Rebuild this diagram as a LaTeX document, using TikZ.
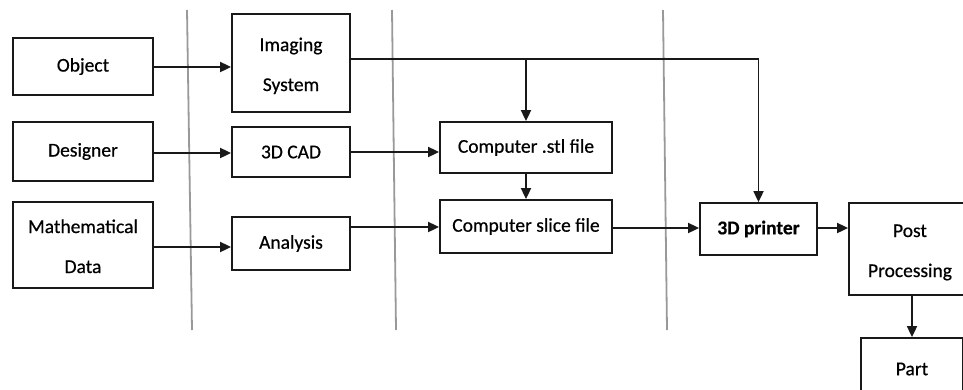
\documentclass[tikz,border=0pt]{standalone}
\usepackage{fontspec}
\setmainfont{Carlito}[FakeBold=0.6]
\usetikzlibrary{arrows.meta,calc}
\begin{document}
\begin{tikzpicture}[x=1pt,y=-1pt,
  every node/.style={font=\fontsize{19.5}{40}\selectfont},
  box/.style={draw=black!90,line width=1.8pt,rectangle,inner sep=0pt,align=center},
  flow/.style={draw=black!90,line width=1.8pt,-{Triangle[length=11pt,width=10pt]}},
  plain/.style={draw=black!90,line width=1.8pt},
  divider/.style={draw=black!40,line width=1.8pt}]
\useasboundingbox (0,0) rectangle (963,389);
\clip (0,0) rectangle (963,389);

% stage dividers
\draw[divider] (187,10) -- (192,330);
\draw[divider] (392,10) -- (396,330);
\draw[divider] (663,10) -- (667,330);

% input sources
\node[box,minimum width=140pt,minimum height=57pt] (obj) at (83,66.5) {Object};
\node[box,minimum width=140pt,minimum height=59pt] (des) at (83,151.5) {Designer};
\node[box,minimum width=140pt,minimum height=86pt] (math) at (83,245) {\raisebox{-3pt}{\begin{tabular}{@{}c@{}}Mathematical\\Data\end{tabular}}};

% acquisition / modelling
\node[box,minimum width=118pt,minimum height=98pt] (img) at (291,63) {\raisebox{-3pt}{\begin{tabular}{@{}c@{}}Imaging\\System\end{tabular}}};
\node[box,minimum width=118pt,minimum height=50pt] (cad) at (291,152) {3D CAD};
\node[box,minimum width=118pt,minimum height=53pt] (ana) at (291,243.5) {Analysis};

% file preparation
\node[box,minimum width=172pt,minimum height=51pt] (stl) at (526,147.5) {Computer .stl file};
\node[box,minimum width=172pt,minimum height=53pt] (slice) at (526,226.5) {Computer slice file};

% fabrication
\node[box,minimum width=117pt,minimum height=52pt] (printer) at (758.5,229) {\bfseries 3D printer};
\node[box,minimum width=122pt,minimum height=92pt] (post) at (910,249) {\raisebox{-3pt}{\begin{tabular}{@{}c@{}}Post\\Processing\end{tabular}}};
\node[box,minimum width=102pt,minimum height=62pt] (part) at (912,369) {Part};

% junctions of the imaging line
\coordinate (j1) at (526,59);
\coordinate (j2) at (758.5,59);

% connectors
\draw[flow] (obj.east |- 0,67) -- (img.west |- 0,67);
\draw[flow] (des.east |- 0,153) -- (cad.west |- 0,153);
\draw[flow] (math.east |- 0,247) -- (ana.west |- 0,247);
\draw[plain] (img.east |- j1) -- (j1);
\draw[flow] (j1) -- (j2) -- (printer.north);
\draw[flow] (j1) -- (stl.north);
\draw[flow] (cad.east |- 0,152) -- (stl.west |- 0,152);
\draw[flow] (stl.south) -- (slice.north);
\draw[flow] (ana.east |- 0,227) -- (slice.west |- 0,227);
\draw[flow] (slice.east |- 0,228) -- (printer.west |- 0,228);
\draw[flow] (printer.east |- 0,228) -- (post.west |- 0,228);
\draw[flow] (part.north |- post.south) -- (part.north);
\end{tikzpicture}
\end{document}
